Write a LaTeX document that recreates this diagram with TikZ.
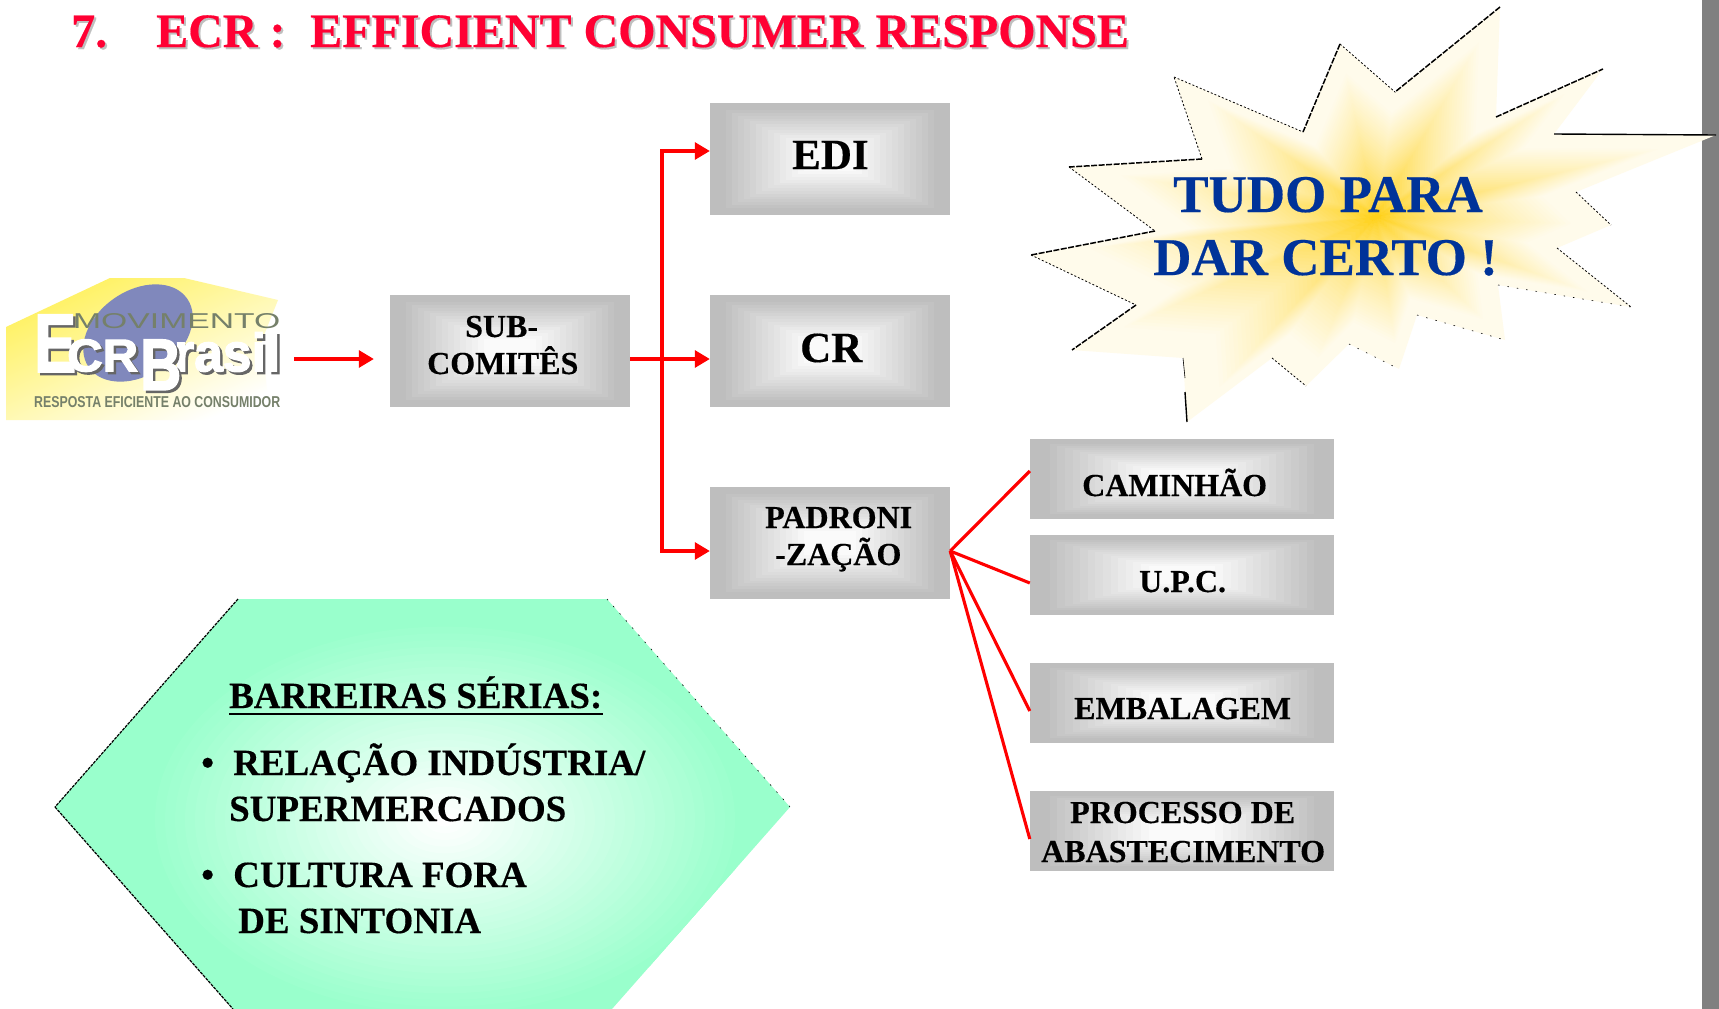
\documentclass[tikz,border=0pt]{standalone}
\usepackage{fontspec}
\usepackage{graphicx}
\setmainfont[BoldFont={Liberation Serif Bold},BoldFeatures={FakeBold=0.35}]{Liberation Serif}
\newfontfamily\lsans[BoldFont={Liberation Sans Bold},BoldFeatures={FakeBold=2.4}]{Liberation Sans}
\newfontfamily\lsansb{Liberation Sans Bold}
\usetikzlibrary{calc,arrows.meta}
\definecolor{redc}{HTML}{FF0033}
\definecolor{linec}{HTML}{FF0000}
\definecolor{bluec}{HTML}{003399}
\definecolor{goldc}{HTML}{FFCC00}
\definecolor{creamc}{HTML}{FFFBEB}
\definecolor{greenc}{HTML}{99FFCC}
\definecolor{boxout}{HTML}{BEBEBE}
\definecolor{boxin}{HTML}{FAFAFA}
\definecolor{stripc}{HTML}{808080}
\definecolor{logoy}{HTML}{FFF15C}
\definecolor{logob}{HTML}{8088BC}
\definecolor{logot}{HTML}{75806A}
\tikzset{
  gbox/.style 2 args={inner sep=0pt,minimum width=#1,minimum height=#2,
    path picture={
      \fill[boxout] (path picture bounding box.south west) rectangle (path picture bounding box.north east);
      \foreach \i in {1,...,14}{
        \pgfmathsetmacro\tt{0.08+0.05*\i}
        \pgfmathsetmacro\pp{100*\i/14}
        \colorlet{bandc}{boxin!\pp!boxout}
        \fill[bandc] ($(path picture bounding box.south west)!\tt!(path picture bounding box.center)$)
          rectangle ($(path picture bounding box.north east)!\tt!(path picture bounding box.center)$);
      }
    }},
  bigbox/.style={gbox={240pt}{112pt}},
  smallbox/.style={gbox={304pt}{80pt}},
  txt/.style={inner sep=0pt,anchor=base west,font=\bfseries\fontsize{32}{37}\selectfont},
  txtb/.style={inner sep=0pt,anchor=base west,font=\bfseries\fontsize{37}{42}\selectfont},
  txth/.style={inner sep=0pt,anchor=base west,font=\bfseries\fontsize{43}{48}\selectfont},
  txts/.style={inner sep=0pt,anchor=base west,text=bluec,font=\bfseries\fontsize{53}{62}\selectfont},
  ttl/.style={inner sep=0pt,anchor=base west,font=\bfseries\fontsize{48}{54}\selectfont},
  conn/.style={draw=linec,line width=3.1pt},
  tipped/.style={-{Triangle[length=15pt,width=17pt]}},
  edgeA/.style={black,line width=1.5pt,dash pattern=on 6pt off 1.5pt},
  edgeB/.style={black,line width=.8pt,dash pattern=on 2pt off 2pt},
  edgeC/.style={black,line width=.6pt,dash pattern=on 1.5pt off 8pt},
  edgeH/.style={black,line width=1.2pt,dash pattern=on 3pt off 1pt},
  lg/.style={inner sep=0pt,anchor=south west,font=\lsans\bfseries},
}
\def\starpts{(1500,7)--(1496,117)--(1603,69)--(1554,134)--(1716,135)--(1576,192)--(1611,225)--(1557,248)--(1631,307)--(1498,285)--(1505,340)--(1417,315)--(1399,369)--(1349,344)--(1306,386)--(1272,358)--(1187,422)--(1183,358)--(1072,350)--(1136,305)--(1031,255)--(1155,231)--(1069,167)--(1202,159)--(1174,77)--(1303,132)--(1340,44)--(1395,92)--cycle}
\def\hexpts{(238,599)--(607,599)--(790,807)--(612,1009)--(233,1009)--(55,807)--cycle}
\begin{document}
\begin{tikzpicture}[x=1pt,y=-1pt]
\useasboundingbox (0,0) rectangle (1719,1009);
\fill[white] (0,0) rectangle (1719,1009);
\fill[stripc] (1702,0) rectangle (1719,1009);

% title
\node[ttl,text=black!25] (t1s) at (73,49) {7.};
\node[ttl,text=black!25] (t2s) at (158,49) {ECR :};
\node[ttl,text=black!25] (t3s) at (312,49) {EFFICIENT CONSUMER RESPONSE};
\node[ttl,text=redc] (t1) at (71,47) {7.};
\node[ttl,text=redc] (t2) at (156,47) {ECR :};
\node[ttl,text=redc] (t3) at (310,47) {EFFICIENT CONSUMER RESPONSE};

% star with a path gradient
\fill[creamc] \starpts;
\foreach \i in {0,...,39}{
  \pgfmathsetmacro\ss{0.85*(1-\i/40)}
  \pgfmathsetmacro\pp{100*(\ss/0.85)^0.6}
  \colorlet{sc}{creamc!\pp!goldc}
  \begin{scope}[shift={(1376,217)},scale=\ss,shift={(-1376,-217)}]
    \fill[sc] \starpts;
  \end{scope}
}
\draw[edgeA] (1500,7)--(1395,92);
\draw[edgeA] (1496,117)--(1603,69);
\draw[black,line width=1.4pt] (1554,134)--(1716,135);
\draw[edgeA] (1340,44)--(1303,132);
\draw[edgeA] (1202,159)--(1069,167);
\draw[edgeA] (1155,231)--(1031,255);
\draw[edgeA] (1136,305)--(1072,350);
\draw[black,line width=1.4pt] (1187,422)--(1185,392);
\draw[black,line width=.6pt] (1185,378)--(1183,358);
\draw[edgeB] (1174,77)--(1303,132);
\draw[edgeB] (1202,159)--(1174,77);
\draw[edgeB] (1340,44)--(1395,92);
\draw[edgeB] (1069,167)--(1155,231);
\draw[edgeB] (1031,255)--(1136,305);
\draw[edgeB] (1576,192)--(1611,225);
\draw[edgeB] (1557,248)--(1631,307);
\draw[edgeB] (1272,358)--(1306,386);
\draw[edgeC] (1498,285)--(1631,307);
\draw[edgeC] (1417,315)--(1505,340);
\draw[edgeC] (1349,344)--(1399,369);
\node[txts] (tudo1) at (1173,212) {TUDO PARA};
\node[txts] (tudo2) at (1153,275) {DAR CERTO !};

% hexagon
\begin{scope}
  \clip \hexpts;
  \fill[greenc] (0,500) rectangle (900,1009);
  \foreach \i in {0,...,29}{
    \pgfmathsetmacro\ss{1-\i/30}
    \pgfmathsetmacro\pp{100*\i/29}
    \colorlet{hc}{white!\pp!greenc}
    \fill[hc] (445,820) ellipse[x radius=300*\ss,y radius=200*\ss];
  }
\end{scope}
\draw[edgeH] (238,599)--(55,807);
\draw[edgeH] (55,807)--(233,1009);
\draw[edgeC] (607,599)--(790,807);
\node[txtb] (bar) at (229,708) {BARREIRAS SÉRIAS:};
\draw[line width=2.5pt] ([yshift=-6pt]bar.base west) -- ([yshift=-6pt]bar.base east);
\node[txtb] (b1) at (201,775) {•};
\node[txtb] (rel) at (233,775) {RELAÇÃO INDÚSTRIA/};
\node[txtb] (sup) at (229,821) {SUPERMERCADOS};
\node[txtb] (b2) at (201,887) {•};
\node[txtb] (cul) at (233,887) {CULTURA FORA};
\node[txtb] (des) at (238,933) {DE SINTONIA};

% logo
\shade[top color=logoy,middle color=logoy!75,bottom color=white,shading angle=25]
  (6,327) -- (110,278) -- (184,278) -- (278,300) -- (262,340) -- (270,420) -- (6,420) -- cycle;
\fill[logob,rotate around={35:(138,333)}] (138,333) ellipse[x radius=60,y radius=42];
\node[lg,font=\lsans,text=logot] (mov) at (73,329) {\resizebox{207pt}{15pt}{MOVIMENTO}};
\node[lg,text=black!60] (es) at (36.5,374.5) {\resizebox{42pt}{57pt}{E}};
\node[lg,text=white] (e) at (34,372) {\resizebox{42pt}{57pt}{E}};
\node[lg,text=black!60] (crs) at (69.5,374.5) {\resizebox{71pt}{32pt}{CR}};
\node[lg,text=white] (crl) at (67,372) {\resizebox{71pt}{32pt}{CR}};
\node[lg,text=black!60] (rs) at (176.5,374.5) {\resizebox{106pt}{39pt}{rasil}};
\node[lg,text=white] (rasil) at (174,372) {\resizebox{106pt}{39pt}{rasil}};
\node[lg,text=black!60] (bs) at (142.5,392.5) {\resizebox{41pt}{50pt}{B}};
\node[lg,text=white] (bl) at (140,390) {\resizebox{41pt}{50pt}{B}};
\node[lg,font=\lsansb,text=logot] (resp) at (34,408) {\resizebox{246pt}{11pt}{RESPOSTA EFICIENTE AO CONSUMIDOR}};

% boxes
\node[bigbox] (sub) at (510,351) {};
\node[bigbox] (edi) at (830,159) {};
\node[bigbox] (cr) at (830,351) {};
\node[bigbox] (pad) at (830,543) {};
\node[smallbox] (cam) at (1182,479) {};
\node[smallbox] (upc) at (1182,575) {};
\node[smallbox] (emb) at (1182,703) {};
\node[smallbox] (proc) at (1182,831) {};

\node[txt] (subl1) at (465,337) {SUB-};
\node[txt] (subl2) at (427,374) {COMITÊS};
\node[txth] (edil) at (792,169) {EDI};
\node[txth] (crlb) at (800,362) {CR};
\node[txt] (padl1) at (765,528) {PADRONI};
\node[txt] (padl2) at (775,565) {-ZAÇÃO};
\node[txt] (caml) at (1082,496) {CAMINHÃO};
\node[txt] (upcl) at (1139,592) {U.P.C.};
\node[txt] (embl) at (1074,719) {EMBALAGEM};
\node[txt] (procl1) at (1070,823) {PROCESSO DE};
\node[txt] (procl2) at (1041,862) {ABASTECIMENTO};

% connectors
\coordinate (logoout) at (294,359);
\coordinate (trunk) at (662,359);
\coordinate (ediin) at ([yshift=8pt]edi.west);
\coordinate (padin) at ([yshift=-8pt]pad.west);
\coordinate (padout) at ([yshift=-8pt]pad.east);
\draw[conn,tipped] (logoout) -- ([xshift=-16pt,yshift=-8pt]sub.west);
\draw[conn,tipped] ([yshift=-8pt]sub.east) -- ([yshift=-8pt]cr.west);
\draw[conn,tipped] (trunk) |- (ediin);
\draw[conn,tipped] (trunk) |- (padin);
\draw[conn] (padout) -- ([yshift=8pt]cam.west);
\draw[conn] (padout) -- ([yshift=-8pt]upc.west);
\draw[conn] (padout) -- ([yshift=-8pt]emb.west);
\draw[conn] (padout) -- ([yshift=-8pt]proc.west);
\end{tikzpicture}
\end{document}
